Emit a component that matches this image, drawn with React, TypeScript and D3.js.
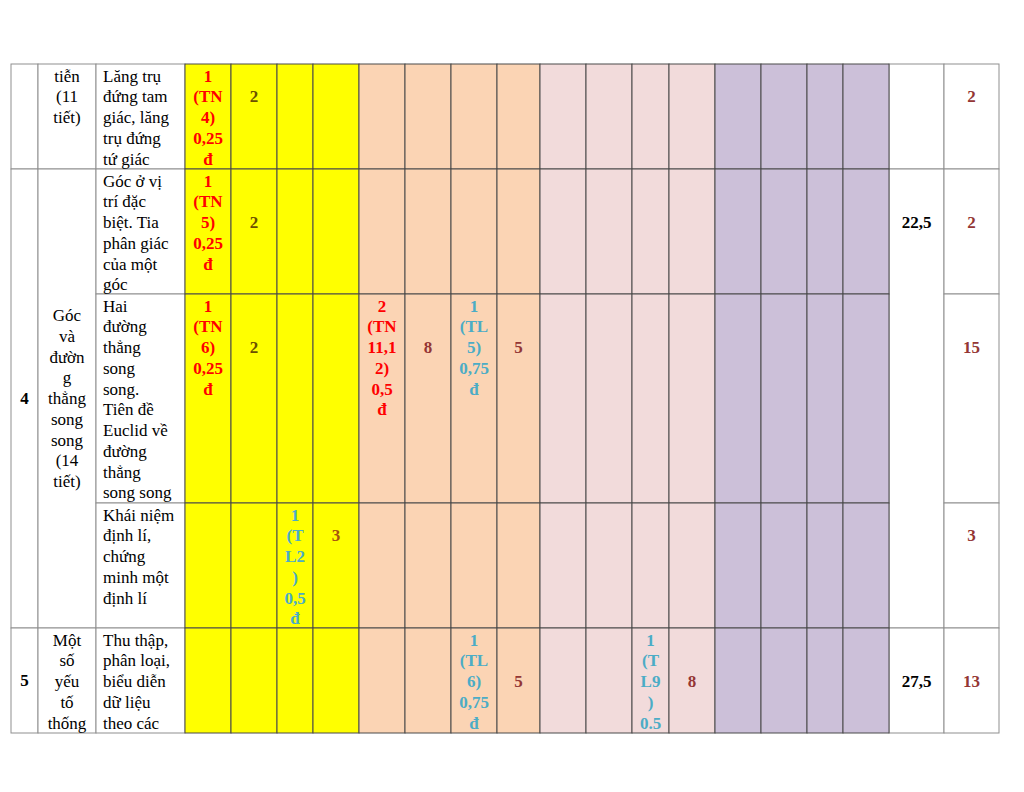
import { useEffect, useRef } from "react";
import * as d3 from "d3";

const WIDTH = 1024;
const HEIGHT = 792;
const COL_EDGES = [11, 38, 96, 185, 231, 277, 313, 359, 405, 451, 497, 540, 586, 632, 669, 715, 761, 807, 843, 889, 944, 999];
const ROW_EDGES = [64, 169, 294, 503, 628, 733];
const LINE_H = 20.75;
const FONT = "Liberation Serif, Times New Roman, serif";

// table content, row by row
const TOPIC_NO = [
  { rows: [0, 0], text: "" },
  { rows: [1, 3], text: "4" },
  { rows: [4, 4], text: "5" }
];

const TOPIC_NAME = [
  { rows: [0, 0], lines: ["tiễn", "(11", "tiết)"], middle: false },
  { rows: [1, 3], lines: ["Góc", "và", "đườn", "g", "thẳng", "song", "song", "(14", "tiết)"], middle: true },
  { rows: [4, 4], lines: ["Một", "số", "yếu", "tố", "thống"], middle: false }
];

const CONTENT = [
  ["Lăng trụ", "đứng tam", "giác, lăng", "trụ đứng", "tứ giác"],
  ["Góc ở vị", "trí đặc", "biệt. Tia", "phân giác", "của một", "góc"],
  ["Hai", "đường", "thẳng", "song", "song.", "Tiên đề", "Euclid về", "đường", "thẳng", "song song"],
  ["Khái niệm", "định lí,", "chứng", "minh một", "định lí"],
  ["Thu thập,", "phân loại,", "biểu diễn", "dữ liệu", "theo các"]
];

// question cells: tn = trắc nghiệm (red), tl = tự luận (teal), n = count
const QUESTIONS = [
  { row: 0, col: 3, kind: "tn", lines: ["1", "(TN", "4)", "0,25", "đ"] },
  { row: 1, col: 3, kind: "tn", lines: ["1", "(TN", "5)", "0,25", "đ"] },
  { row: 2, col: 3, kind: "tn", lines: ["1", "(TN", "6)", "0,25", "đ"] },
  { row: 0, col: 4, kind: "n1", lines: ["", "2"] },
  { row: 1, col: 4, kind: "n1", lines: ["", "", "2"] },
  { row: 2, col: 4, kind: "n1", lines: ["", "", "2"] },
  { row: 3, col: 5, kind: "tl", lines: ["1", "(T", "L2", ")", "0,5", "đ"] },
  { row: 3, col: 6, kind: "n2", lines: ["", "3"] },
  { row: 2, col: 7, kind: "tn", lines: ["2", "(TN", "11,1", "2)", "0,5", "đ"] },
  { row: 2, col: 8, kind: "n", lines: ["", "", "8"] },
  { row: 2, col: 9, kind: "tl", lines: ["1", "(TL", "5)", "0,75", "đ"] },
  { row: 2, col: 10, kind: "n", lines: ["", "", "5"] },
  { row: 4, col: 9, kind: "tl", lines: ["1", "(TL", "6)", "0,75", "đ"] },
  { row: 4, col: 10, kind: "n", lines: ["", "", "5"] },
  { row: 4, col: 13, kind: "tl", lines: ["1", "(T", "L9", ")", "0.5"] },
  { row: 4, col: 14, kind: "n", lines: ["", "", "8"] }
];

const PERCENT = [
  { rows: [0, 0], lines: [] as string[] },
  { rows: [1, 3], lines: ["", "", "22,5"] },
  { rows: [4, 4], lines: ["", "", "27,5"] }
];

const TOTALS = [["", "2"], ["", "", "2"], ["", "", "15"], ["", "3"], ["", "", "13"]];

const BANDS = [
  { from: 3, to: 6, fill: "#ffff00" },
  { from: 7, to: 10, fill: "#fbd4b4" },
  { from: 11, to: 14, fill: "#f2dbdb" },
  { from: 15, to: 18, fill: "#ccc0d9" }
];

const TONE: Record<string, string> = {
  tn: "#ff0000",
  tl: "#4bacc6",
  n: "#943634",
  n1: "#6b4f00",
  n2: "#a8530e",
  total: "#943634",
  pct: "#000000"
};

export default function App() {
  const svgRef = useRef<SVGSVGElement | null>(null);

  useEffect(() => {
    const svg = d3.select(svgRef.current);
    svg.selectAll("*").remove();
    svg.attr("viewBox", `0 0 ${WIDTH} ${HEIGHT}`).attr("width", WIDTH).attr("height", HEIGHT);

    svg.append("rect").attr("width", WIDTH).attr("height", HEIGHT).attr("fill", "#ffffff");

    const colX = (i: number) => COL_EDGES[i];
    const rowY = (i: number) => ROW_EDGES[i];
    const bandFill = (col: number) => {
      const b = BANDS.find((d) => col >= d.from && col <= d.to);
      return b ? b.fill : null;
    };

    const cells = svg.append("g");
    const texts = svg.append("g").style("font-family", FONT).style("font-size", "17px");

    const cell = (c0: number, c1: number, r0: number, r1: number) => {
      const fill = bandFill(c0);
      cells
        .append("rect")
        .attr("x", colX(c0))
        .attr("y", rowY(r0))
        .attr("width", colX(c1 + 1) - colX(c0))
        .attr("height", rowY(r1 + 1) - rowY(r0))
        .attr("fill", fill || "#ffffff")
        .attr("stroke", fill ? "#4a4a4a" : "#8f8f8f")
        .attr("stroke-width", 1)
        .attr("data-colored", fill ? 1 : 0);
    };

    const writeLines = (
      lines: string[],
      x: number,
      top: number,
      opts: { anchor?: string; color?: string; bold?: boolean; middle?: boolean; bottom?: number }
    ) => {
      let first = top + 17.5;
      if (opts.middle && opts.bottom !== undefined) {
        const center = (top + opts.bottom) / 2;
        first = center - ((lines.length - 1) * LINE_H) / 2 + 5.5;
      }
      lines.forEach((line, i) => {
        if (!line) return;
        texts
          .append("text")
          .attr("x", x)
          .attr("y", first + i * LINE_H)
          .attr("text-anchor", opts.anchor || "middle")
          .attr("fill", opts.color || "#000000")
          .attr("font-weight", opts.bold ? 700 : 400)
          .text(line);
      });
    };

    // white cells first, coloured cells on top so their darker borders win
    TOPIC_NO.forEach((d) => cell(0, 0, d.rows[0], d.rows[1]));
    TOPIC_NAME.forEach((d) => cell(1, 1, d.rows[0], d.rows[1]));
    CONTENT.forEach((_, r) => cell(2, 2, r, r));
    PERCENT.forEach((d) => cell(19, 19, d.rows[0], d.rows[1]));
    TOTALS.forEach((_, r) => cell(20, 20, r, r));
    d3.range(ROW_EDGES.length - 1).forEach((r) => {
      d3.range(3, 19).forEach((c) => cell(c, c, r, r));
    });
    cells.selectAll("rect[data-colored='1']").raise();

    const mid = (c: number) => (colX(c) + colX(c + 1)) / 2;

    TOPIC_NO.forEach((d) =>
      writeLines([d.text], mid(0), rowY(d.rows[0]), { bold: true, middle: true, bottom: rowY(d.rows[1] + 1) })
    );
    TOPIC_NAME.forEach((d) =>
      writeLines(d.lines, mid(1), rowY(d.rows[0]), { middle: d.middle, bottom: rowY(d.rows[1] + 1) })
    );
    CONTENT.forEach((lines, r) => writeLines(lines, colX(2) + 7, rowY(r), { anchor: "start" }));
    QUESTIONS.forEach((q) =>
      writeLines(q.lines, mid(q.col), rowY(q.row), { bold: true, color: TONE[q.kind] })
    );
    PERCENT.forEach((d) => writeLines(d.lines, mid(19), rowY(d.rows[0]), { bold: true, color: TONE.pct }));
    TOTALS.forEach((lines, r) => writeLines(lines, mid(20), rowY(r), { bold: true, color: TONE.total }));
  }, []);

  return (
    <svg
      ref={svgRef}
      style={{ position: "absolute", left: 0, top: 0, display: "block" }}
      role="img"
      aria-label="Ma trận đề kiểm tra"
    />
  );
}
